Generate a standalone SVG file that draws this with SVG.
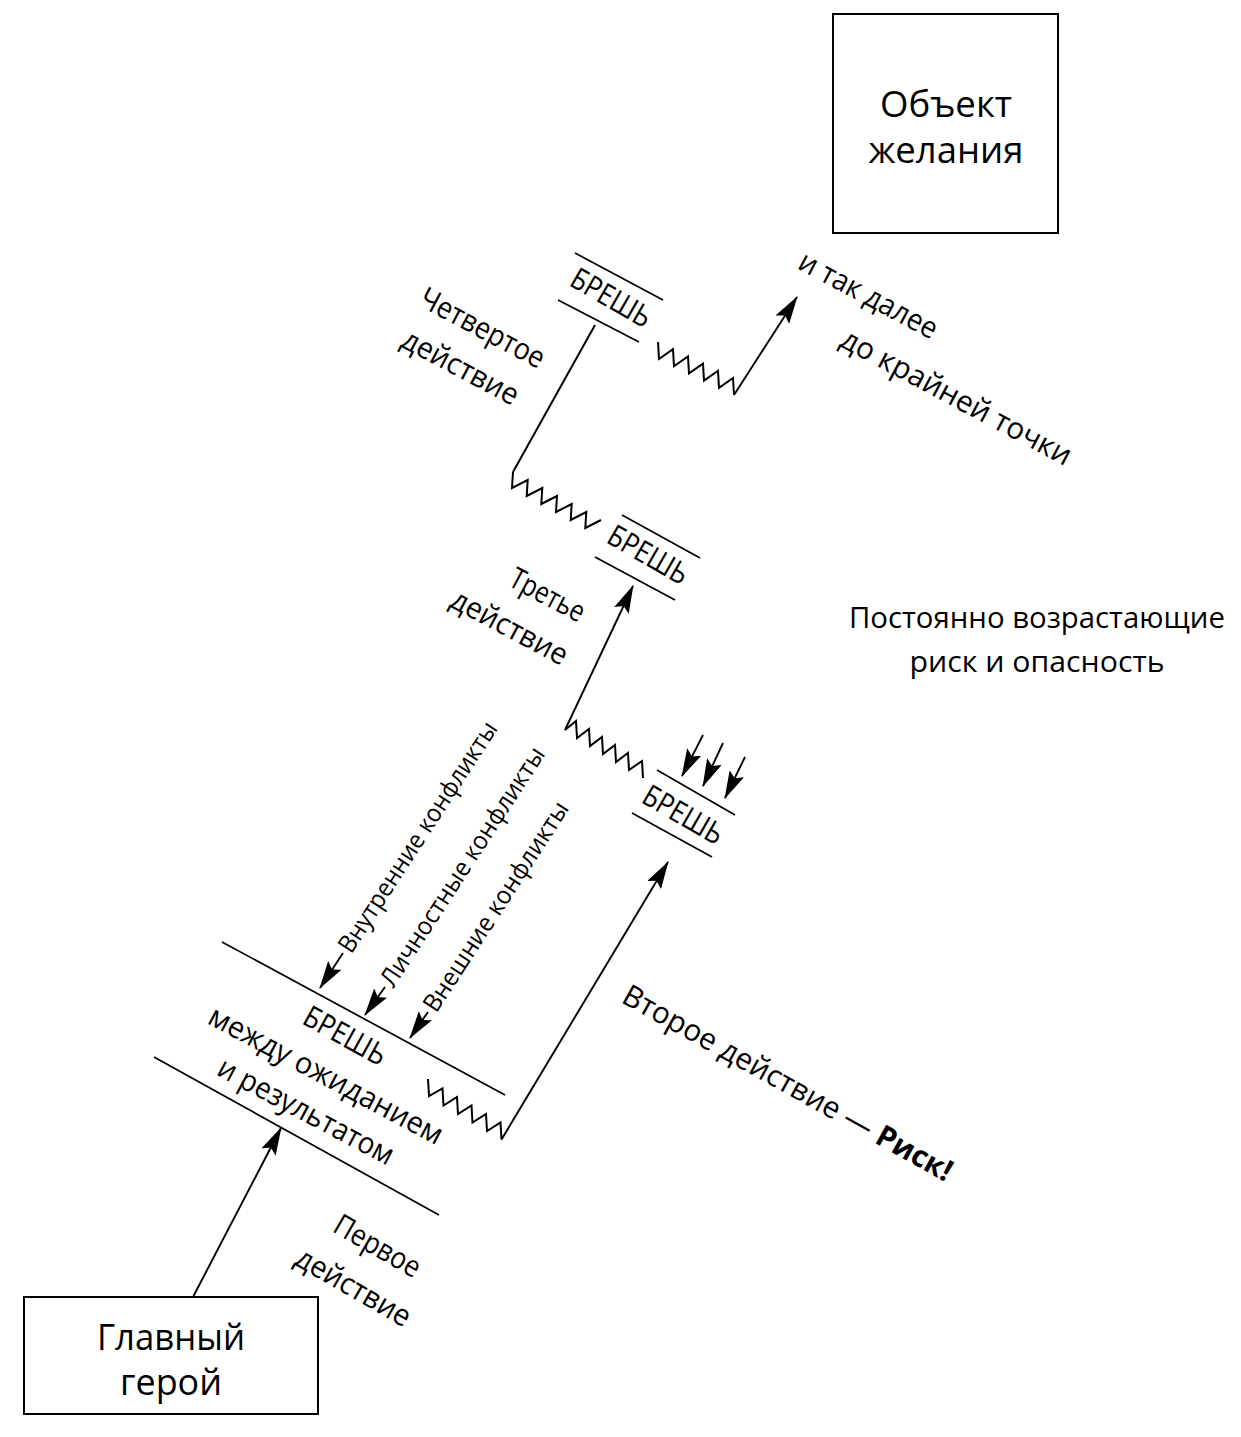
<svg xmlns="http://www.w3.org/2000/svg" width="1241" height="1437" viewBox="0 0 1241 1437">
<defs>
<style>
text{font-family:"Open Sans","Noto Sans","Liberation Sans",sans-serif;fill:#000}
.box{fill:#fff;stroke:#000;stroke-width:2}
.ln{fill:none;stroke:#000;stroke-width:2;stroke-linejoin:miter}
.gap{fill:none;stroke:#000;stroke-width:1.7}
.arr{fill:none;stroke:#000;stroke-width:1.9;marker-end:url(#ah)}
.big{font-size:36px}
.lbl{font-size:30px}
.br{font-size:30px}
.cf{font-size:25px}
</style>
<marker id="ah" viewBox="0 0 28 16" refX="27" refY="8" markerWidth="28" markerHeight="16" markerUnits="userSpaceOnUse" orient="auto">
<path d="M0,0 L28,8 L0,16 L5,8 Z" fill="#000"/>
</marker>
</defs>
<rect width="1241" height="1437" fill="#fff"/>

<g id="connectors">
<line class="arr" x1="193" y1="1297" x2="281" y2="1128"/>
<polyline class="ln" points="428,1079 429,1096 442.5,1088.5 443.5,1105.5 457,1097 458,1114 471.5,1105.5 472.5,1122.5 486,1114 487,1131 500.5,1122.5 501.5,1139.5"/>
<line class="arr" x1="501.5" y1="1139.5" x2="668" y2="862"/>
<polyline class="ln" points="643,778 642,761 629,770 628,753 616,762 615,745 603,754 602,737 590,746 589,729 577,738 576,721 565,730"/>
<line class="arr" x1="565" y1="730" x2="633" y2="586"/>
<line class="ln" x1="595" y1="325" x2="513" y2="472"/>
<polyline class="ln" points="513,472 512,488 527.7,480 526.7,496 542.3,488 541.3,504 557,496 556,512 571.7,504 570.7,520 586.3,512 585.3,528 601,520"/>
<polyline class="ln" points="658,342 659,359 673,349.2 674,366.2 688,356.4 689,373.4 703,363.6 704,380.6 718,370.8 719,387.8 733,378 734,395"/>
<line class="arr" x1="734" y1="395" x2="797" y2="297"/>
<line class="arr" x1="343" y1="953" x2="320" y2="988"/>
<line class="arr" x1="385" y1="987" x2="365" y2="1015"/>
<line class="arr" x1="428" y1="1012" x2="410" y2="1038"/>
<line class="arr" x1="703" y1="735" x2="682" y2="776"/>
<line class="arr" x1="723" y1="743" x2="703" y2="786"/>
<line class="arr" x1="745" y1="757" x2="725" y2="798"/>
</g>

<g id="node-object">
<rect class="box" x="833" y="14" width="225" height="219"/>
<text class="big" x="946" y="117" text-anchor="middle" textLength="132" lengthAdjust="spacingAndGlyphs">Объект</text>
<text class="big" x="946" y="163" text-anchor="middle" textLength="155" lengthAdjust="spacingAndGlyphs">желания</text>
</g>

<g id="node-hero">
<rect class="box" x="24" y="1297" width="294" height="117"/>
<text class="big" x="171" y="1350" text-anchor="middle" textLength="148" lengthAdjust="spacingAndGlyphs">Главный</text>
<text class="big" x="171" y="1395" text-anchor="middle" textLength="102" lengthAdjust="spacingAndGlyphs">герой</text>
</g>

<g id="gap-1">
<line class="gap" x1="222" y1="942" x2="505" y2="1095"/>
<line class="gap" x1="154" y1="1057" x2="439" y2="1215"/>
<text class="br" transform="translate(345,1036) rotate(29)" x="0" y="10" text-anchor="middle" textLength="90" lengthAdjust="spacingAndGlyphs">БРЕШЬ</text>
<text class="br" transform="translate(325,1077) rotate(28)" x="0" y="8" text-anchor="middle" textLength="261" lengthAdjust="spacingAndGlyphs">между ожиданием</text>
<text class="br" transform="translate(305,1113) rotate(28)" x="0" y="8" text-anchor="middle" textLength="195" lengthAdjust="spacingAndGlyphs">и результатом</text>
</g>

<g id="gap-2">
<line class="gap" x1="657" y1="770" x2="735" y2="815"/>
<line class="gap" x1="632" y1="813" x2="712" y2="857"/>
<text class="br" transform="translate(683,815) rotate(30)" x="0" y="10" text-anchor="middle" textLength="88" lengthAdjust="spacingAndGlyphs">БРЕШЬ</text>
</g>

<g id="gap-3">
<line class="gap" x1="622" y1="515" x2="700" y2="558"/>
<line class="gap" x1="595" y1="557" x2="675" y2="600"/>
<text class="br" transform="translate(648,555) rotate(30)" x="0" y="10" text-anchor="middle" textLength="88" lengthAdjust="spacingAndGlyphs">БРЕШЬ</text>
</g>

<g id="gap-4">
<line class="gap" x1="575" y1="253" x2="663" y2="300"/>
<line class="gap" x1="558" y1="300" x2="639" y2="342"/>
<text class="br" transform="translate(611,298) rotate(30)" x="0" y="10" text-anchor="middle" textLength="88" lengthAdjust="spacingAndGlyphs">БРЕШЬ</text>
</g>

<g id="conflicts">
<text class="cf" transform="translate(343,953) rotate(-57)" x="3" y="8" textLength="270" lengthAdjust="spacingAndGlyphs">Внутренние конфликты</text>
<text class="cf" transform="translate(385,987) rotate(-57)" x="3" y="8" textLength="280" lengthAdjust="spacingAndGlyphs">Личностные конфликты</text>
<text class="cf" transform="translate(428,1012) rotate(-57)" x="3" y="8" textLength="245" lengthAdjust="spacingAndGlyphs">Внешние конфликты</text>
</g>

<g id="labels">
<text class="lbl" transform="translate(377,1247) rotate(30)" x="0" y="9" text-anchor="middle" textLength="95" lengthAdjust="spacingAndGlyphs">Первое</text>
<text class="lbl" transform="translate(353,1288) rotate(30)" x="0" y="9" text-anchor="middle" textLength="128" lengthAdjust="spacingAndGlyphs">действие</text>
<text class="lbl" transform="translate(547,596) rotate(28)" x="0" y="9" text-anchor="middle" textLength="81" lengthAdjust="spacingAndGlyphs">Третье</text>
<text class="lbl" transform="translate(509,628) rotate(28)" x="0" y="9" text-anchor="middle" textLength="128" lengthAdjust="spacingAndGlyphs">действие</text>
<text class="lbl" transform="translate(482,329) rotate(28)" x="0" y="9" text-anchor="middle" textLength="137" lengthAdjust="spacingAndGlyphs">Четвертое</text>
<text class="lbl" transform="translate(460,368) rotate(28)" x="0" y="9" text-anchor="middle" textLength="128" lengthAdjust="spacingAndGlyphs">действие</text>
<text class="lbl" transform="translate(868,296) rotate(28)" x="0" y="9" text-anchor="middle" textLength="153" lengthAdjust="spacingAndGlyphs">и так далее</text>
<text class="lbl" transform="translate(956,398) rotate(28)" x="0" y="9" text-anchor="middle" textLength="257" lengthAdjust="spacingAndGlyphs">до крайней точки</text>
<text class="lbl" transform="translate(787,1084) rotate(29)" x="0" y="9" text-anchor="middle" style="font-size:30px" textLength="372" lengthAdjust="spacingAndGlyphs">Второе действие — <tspan font-weight="bold">Риск!</tspan></text>
<text x="1037" y="628" text-anchor="middle" style="font-size:30px" textLength="376" lengthAdjust="spacingAndGlyphs">Постоянно возрастающие</text>
<text x="1037" y="672" text-anchor="middle" style="font-size:30px" textLength="255" lengthAdjust="spacingAndGlyphs">риск и опасность</text>
</g>
</svg>
